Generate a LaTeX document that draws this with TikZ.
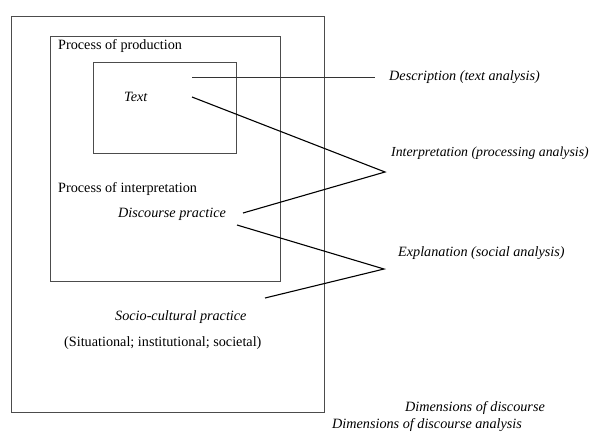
\documentclass[tikz,border=0pt]{standalone}
\usepackage{fontspec}
\setmainfont{Liberation Serif}
\begin{document}
\begin{tikzpicture}[x=1pt,y=-1pt,
  boxline/.style={draw=black!70,line width=0.9pt},
  conn/.style={draw=black,line width=1.1pt},
  thinconn/.style={draw=black!80,line width=0.8pt},
  lbl/.style={anchor=west,inner sep=0pt,font=\fontsize{14.2}{17}\selectfont},
  ilbl/.style={lbl,font=\fontsize{14.2}{17}\selectfont\itshape}]
\useasboundingbox (0,0) rectangle (593,432);
% boxes
\draw[boxline] (11,16) rectangle (324,412);
\draw[boxline] (50,36) rectangle (280,281);
\draw[boxline] (93,62) rectangle (236,153);
% labels in boxes
\node[lbl] (prod) at (58,46) {Process of production};
\node[ilbl] (text) at (124,97) {Text};
\node[lbl] (interp) at (58,189) {Process of interpretation};
\node[ilbl] (disc) at (118,214) {Discourse practice};
\node[ilbl] (socio) at (115,317) {Socio-cultural practice};
\node[lbl] (situ) at (64,343) {(Situational; institutional; societal)};
% right labels
\node[ilbl] (descr) at (389,77) {Description (text analysis)};
\node[ilbl,font=\fontsize{13.8}{17}\selectfont\itshape] (interpl) at (391,153) {Interpretation (processing analysis)};
\node[ilbl] (expl) at (398,253) {Explanation (social analysis)};
\node[ilbl] (dim1) at (405,408) {Dimensions of discourse};
\node[ilbl] (dim2) at (332,425) {Dimensions of discourse analysis};
% connector points
\coordinate (d0) at (192,77);
\coordinate (d1) at (375,77);
\coordinate (t0) at (192,97);
\coordinate (iv) at (385,172);
\coordinate (p0) at (243,213);
\coordinate (p1) at (237,225);
\coordinate (ev) at (384,269);
\coordinate (s0) at (265,298);
\draw[thinconn] (d0) -- (d1);
\draw[conn] (t0) -- (iv) -- (p0);
\draw[conn] (p1) -- (ev) -- (s0);
\end{tikzpicture}
\end{document}
